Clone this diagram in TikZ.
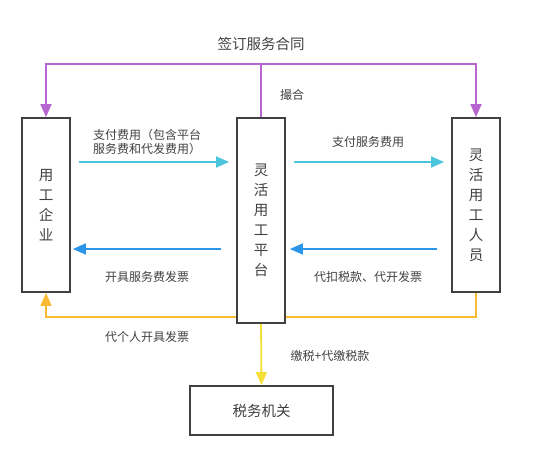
\documentclass[tikz,border=0pt]{standalone}
\usepackage{fontspec}
\setmainfont{Noto Sans CJK SC}
\usetikzlibrary{arrows.meta}
\definecolor{txt}{HTML}{404040}
\definecolor{boxc}{HTML}{404040}
\definecolor{purp}{HTML}{B965D1}
\definecolor{cyanc}{HTML}{4CC6DE}
\definecolor{bluec}{HTML}{2B95E9}
\definecolor{orangec}{HTML}{F8BB33}
\definecolor{yellowc}{HTML}{F5E03A}
\tikzset{
  ent/.style={draw=boxc, line width=1.8pt, fill=white, minimum width=48pt, inner sep=0pt, text=txt, align=center, font=\fontsize{14.5}{20}\selectfont},
  lbl/.style={text=txt, font=\fontsize{12}{14.5}\selectfont, inner sep=0pt},
  conn/.style={line width=1.8pt, -{Triangle[length=13pt,width=11pt]}},
  plain/.style={line width=1.8pt}
}
\begin{document}
\begin{tikzpicture}[x=1pt,y=-1pt]
\useasboundingbox (0,0) rectangle (553,460);
% boxes
\node[ent, minimum height=174pt] (qy) at (46,205) {用\\工\\企\\业};
\node[ent, minimum height=205pt] (pt) at (261,220.5) {灵\\活\\用\\工\\平\\台};
\node[ent, minimum height=174pt] (ry) at (476,205) {灵\\活\\用\\工\\人\\员};
\node[ent, minimum width=143pt, minimum height=49pt] (sw) at (261.5,410.5) {税务机关};
% purple contract lines
\coordinate (top) at (261,64);
\draw[plain, purp] (pt.north) -- (top);
\draw[conn, purp] (top) -| (qy.north);
\draw[conn, purp] (top) -| (ry.north);
% cyan payments
\coordinate (ya) at (0,162);
\coordinate (yb) at (0,249);
\coordinate (yc) at (0,317);
\draw[conn, cyanc] ([xshift=8pt]qy.east |- ya) -- ([xshift=-7pt]pt.west |- ya);
\draw[conn, cyanc] ([xshift=8pt]pt.east |- ya) -- ([xshift=-7pt]ry.west |- ya);
% blue invoices
\draw[conn, bluec] ([xshift=-15pt]pt.west |- yb) -- ([xshift=2pt]qy.east |- yb);
\draw[conn, bluec] ([xshift=-14pt]ry.west |- yb) -- ([xshift=4pt]pt.east |- yb);
% orange
\draw[conn, orangec] (pt.west |- yc) -| (qy.south);
\draw[plain, orangec] (ry.south) |- (pt.east |- yc);
% yellow
\draw[conn, yellowc] (pt.south) -- (sw.north);
% labels
\node[lbl, font=\fontsize{14.5}{17}\selectfont] (t1) at (261,44) {签订服务合同};
\node[lbl] (t2) at (292,95) {撮合};
\node[lbl, anchor=west, align=left] (t3) at (93,142) {支付费用（包含平台\\服务费和代发费用）};
\node[lbl] (t4) at (368,142) {支付服务费用};
\node[lbl] (t5) at (147,277) {开具服务费发票};
\node[lbl] (t6) at (368,277) {代扣税款、代开发票};
\node[lbl] (t7) at (147,337) {代个人开具发票};
\node[lbl] (t8) at (330,356) {缴税+代缴税款};
\end{tikzpicture}
\end{document}
